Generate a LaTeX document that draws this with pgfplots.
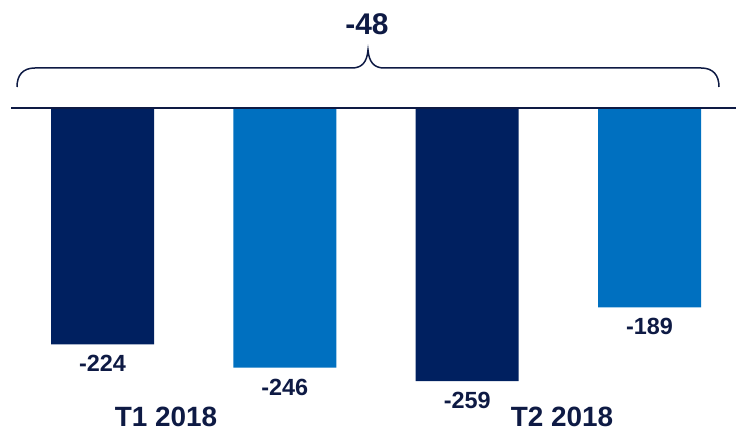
\documentclass[border=0pt]{standalone}
\usepackage{pgfplots}
\pgfplotsset{compat=1.18}
\usepackage{fontspec}
\setmainfont{Liberation Sans}
\definecolor{navy}{HTML}{002060}
\definecolor{lblue}{HTML}{0070C0}
\definecolor{txt}{HTML}{0E1A44}
\begin{document}
\begin{tikzpicture}[x=1bp,y=1bp]
\useasboundingbox (0,0) rectangle (736,433);
\begin{axis}[
  at={(0,0)}, anchor=south west,
  x=182.33bp, y=1.055bp,
  xmin=-0.5622, xmax=3.4744,
  ymin=-308.06, ymax=102.37,
  enlargelimits=false,
  hide axis, clip=false,
  /pgf/number format/assume math mode=true,
  ybar, bar width=103bp, bar shift=0pt,
  nodes near coords={\pgfmathprintnumber{\pgfplotspointmeta}},
  every node near coord/.append style={anchor=north, yshift=-11bp, inner sep=0pt,
     font=\bfseries\fontsize{23.5}{27}\selectfont, text=txt},
]
\addplot[fill=navy, draw=none] coordinates {(0,-224) (2,-259)};
\addplot[fill=lblue, draw=none] coordinates {(1,-246) (3,-189)};
\end{axis}
% baseline
\draw[line width=2bp, color=txt] (11,325) -- (736,325);
% brace
\draw[line width=1.5bp, color=txt]
  (17,346) .. controls (17,358) and (23,365) .. (35,365)
  -- (352,365) .. controls (362,365) and (367,371) .. (368,383)
  .. controls (369,371) and (374,365) .. (384,365)
  -- (701,365) .. controls (713,365) and (719,358) .. (719,346);
\node[text=txt, font=\bfseries\fontsize{30}{34}\selectfont] at (367,409) {-48};
\node[text=txt, font=\bfseries\fontsize{28}{32}\selectfont, inner sep=0pt, anchor=base] at (166,6.5) {T1 2018};
\node[text=txt, font=\bfseries\fontsize{28}{32}\selectfont, inner sep=0pt, anchor=base] at (562,6.5) {T2 2018};
\end{tikzpicture}
\end{document}
